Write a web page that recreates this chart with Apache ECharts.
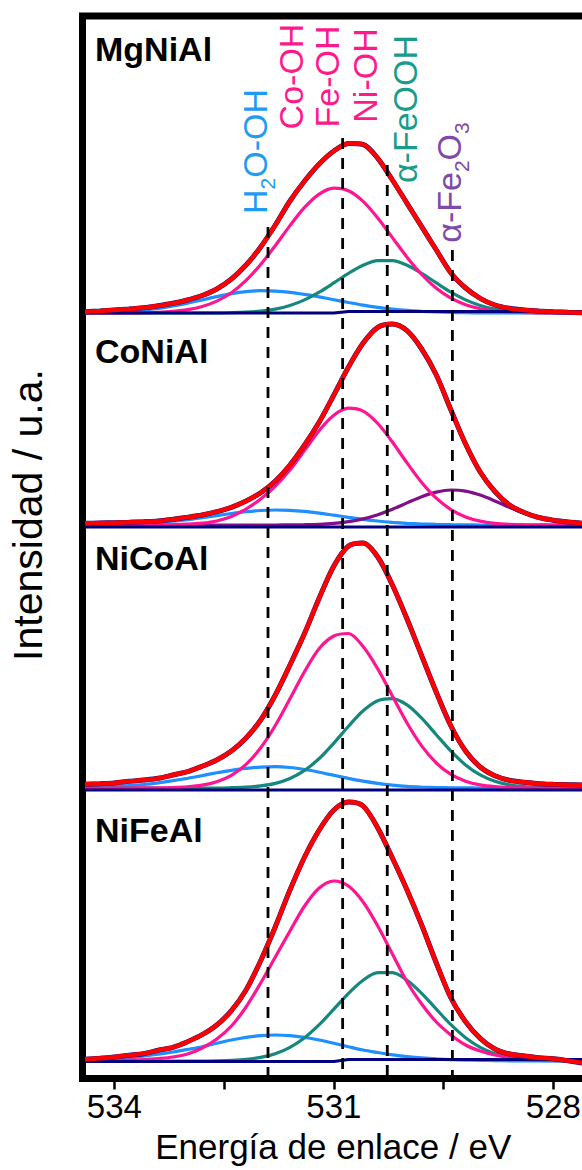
<!DOCTYPE html>
<html>
<head>
<meta charset="utf-8">
<script src="https://cdn.jsdelivr.net/npm/echarts@6/dist/echarts.min.js"></script>
<style>
  html, body { margin: 0; padding: 0; background: #fff; }
  #chart { width: 582px; height: 1170px; }
</style>
</head>
<body>
<div id="chart"></div>
<script>
// ---- O 1s spectra: binding energy grid (eV), shared by every curve ----
const energy = [534.4, 534.2, 534.0, 533.8, 533.6, 533.4, 533.2, 533.0, 532.8, 532.6,
                532.4, 532.2, 532.0, 531.8, 531.6, 531.4, 531.2, 531.0, 530.8, 530.6,
                530.4, 530.2, 530.0, 529.8, 529.6, 529.4, 529.2, 529.0, 528.8, 528.6,
                528.4, 528.2, 528.0, 527.8, 527.6];

// Axis ticks (eV)
const tickLabels = [534, 531, 528];
const tickMarks = [534, 532.5, 531, 529.5, 528];

// Reference positions of the fitted species (eV)
const speciesEnergy = [531.90, 530.88, 530.27, 529.38];

// ---- MgNiAl (intensity, a.u.) ----
const mgBackground = [0,0,0,0,0,0,0,0,0,0,0,0,0,0,0,0,0,0,1.5,1.5,1.5,1.5,1.5,1.5,1.5,1.5,1.5,1.5,1.5,1.5,1.5,1.5,1.5,1.5,1.5];
const mgEnvelope = [1.3,2.0,3.0,4.0,5.3,7.3,9.7,13,17.5,24,34,48,66,88,112,132,149,162,169.5,168.5,154.7,133,109.7,86.3,63,40,25,14.7,8,4.7,3,2,1.3,0.7,0.3];
const mgH2O = [0.2,0.5,0.9,1.7,2.9,4.6,7.0,9.9,13.1,16.4,19.3,21.4,22.3,21.9,20.7,18.6,16.1,13.3,10.5,7.9,5.7,3.9,2.6,1.7,1.0,0.6,0.3,0.15,0,0,0,0,0,0,0];
const mgMOH = [0,0,0,0.1,0.3,0.7,1.6,3.3,6.5,11.9,20.3,32.6,48.5,67.4,87.4,105.6,118.9,124.8,122.2,111.6,95.0,75.4,55.8,38.5,24.8,14.9,8.3,4.3,2.1,1.0,0.4,0.2,0,0,0];
const mgFeOOH = [0,0,0,0,0,0,0,0,0,0,0.3,0.8,1.9,3.9,7.5,13.1,20.8,30.1,39.7,47.8,52.4,52.4,47.8,39.7,30.1,20.8,13.1,7.5,3.9,1.9,0.8,0.3,0,0,0];

// ---- CoNiAl ----
const coBackground = [-2,-2,-2,-2,-2,-2,-2,-2,-2,-2,-2,-2,-2,-2,-2,-2,-2,-2,-2,-2,-2,-2,-2,-2,-2,-2,-2,-2,-2,-2,-2,-2,-2,-2,-2];
const coEnvelope = [1.7,2,2.3,2.7,3.3,4,5.7,7.7,10,13.3,17.7,24,32.3,44,60,80,103,130,158,182,197.7,201,194.3,176,150,115,81,53,33.5,20,12.5,7.5,4.8,3,1.7];
const coH2O = [0.1,0.3,0.5,0.9,2.0,3.0,3.9,5.3,7.3,9.4,11.5,13.3,14.5,15,14.7,13.6,11.9,9.8,7.7,5.7,4.0,2.7,1.7,1.0,0.6,0.3,0.15,0,0,0,0,0,0,0,0];
const coMOH = [0,0,0,0,0,0.1,0.3,0.8,1.8,4,8.5,16,26,39,55,74.6,94.6,109.8,116.8,113.8,101.5,83.0,62.1,42.6,26.8,15.4,8.1,3.9,1.7,0.7,0.3,0.1,0,0,0];
const coFe2O3 = [0,0,0,0,0,0,0,0,0,0,0,0,0,0,0.1,0.3,0.7,1.6,3.3,6.1,10.3,15.8,22.1,28.3,32.9,35,33.9,29.9,24.1,17.7,11.8,7.2,4.0,2.0,0.9];

// ---- NiCoAl ----
const ncBackground = [-2,-2,-2,-2,-2,-2,-2,-2,-2,-2,-2,-2,-2,-2,-2,-2,-2,-2,-2,-2,-2,-2,-2,-2,-2,-2,-2,-2,-2,-2,-2,-2,-2,-2,-2];
const ncEnvelope = [3.7,4.3,5,6.7,8,9.7,13,16.3,21.7,28,37,50,68,93,123,154.7,190,222,242,245,231,203,169,132.3,95.7,62,37,21,12.3,7.7,5.7,4.3,3.7,3.3,3];
const ncH2O = [0.5,0.9,1.4,2.3,3.5,5.2,7.3,9.7,12.4,15.2,17.7,19.7,20.9,21.3,20.5,18.5,15.8,12.7,9.6,6.8,4.6,2.9,1.7,1.0,0.5,0.25,0.1,0,0,0,0,0,0,0,0];
const ncMOH = [0,0,0,0,0.1,0.2,0.5,1.2,2.8,6.3,12.7,23.6,40.2,62.5,89.2,116.5,139.5,152,154.5,141.4,119.1,92.0,65.0,42.1,25.0,13.6,6.8,3.1,1.3,0.5,0.2,0,0,0,0];
const ncFeOOH = [0,0,0,0,0,0,0,0,0,0,0.3,0.8,2.1,4.6,9.5,17.6,29.5,44.9,61.8,77.2,87.3,89.4,83.1,69.9,53.3,36.9,23.1,13.1,6.7,3.1,1.3,0.5,0.2,0,0];

// ---- NiFeAl ----
const nfBackground = [-0.5,-0.5,-0.5,-0.5,-0.5,-0.5,-0.5,-0.5,-0.5,-0.5,-0.5,-0.5,-0.5,-0.5,-0.5,-0.5,-0.5,-0.5,1.5,1.5,1.5,1.5,1.5,1.5,1.5,1.5,1.5,1.5,1.5,1.5,1.5,1.5,1.5,1.5,1.5];
const nfEnvelope = [1.7,2.7,4,5.7,7.3,10.7,13.7,19.3,26.3,36,50.3,71,100.3,134.3,171,204,231,251,259,255,233,203,171,136,98,63,39.3,22.7,12,7,5,3.3,2.3,0.3,-2];
const nfH2O = [1.0,1.5,2.3,3.4,5.0,6.8,9.0,11.6,14.3,17.8,21.0,23.6,25.4,26,25.4,23.6,21.0,17.8,14.3,11.0,8.5,6.2,4.5,3.1,2.1,1.4,0.9,0.6,0.4,0.2,0,0,0,0,0];
const nfMOH = [0,0.2,0.5,1,1.5,2.5,4,7,13,22,35,54,78,104,130,155,173,180,175,159,135,107,79,57,39,26,16,10,6,3.5,2,1,0.5,0.2,0];
const nfFeOOH = [0,0,0,0,0,0,0,0,0,0.25,0.7,1.6,3.6,7.3,13.7,23.3,36.3,51.8,67.7,80.8,88.3,88.3,80.8,67.7,51.8,36.3,23.3,13.7,7.3,3.6,1.6,0.7,0.25,0,0];

// ---------------- styling & layout ----------------
const FONT = "'Liberation Sans', Arial, Helvetica, sans-serif";
const COLORS = {
  h2o: '#1e8fff', moh: '#ff1493', feooh: '#16877d', fe2o3: '#80108a',
  fit: '#ff0000', data: '#0c0c80', base: '#00007f'
};
const LABEL_COLORS = { h2o: '#1f9cf2', moh: '#ff1a8c', feooh: '#1a9c8b', fe2o3: '#7f4aa8' };

const X_MIN = 527.445, X_MAX = 534.435;      // visible energy window
const PLOT_LEFT = 82.5, PLOT_RIGHT = -12;     // frame runs past the right edge
const FRAME_TOP = 16, FRAME_BOTTOM = 1078.5;
const zeroLines = [313, 525, 788, 1061];     // pixel row of each panel's zero
const PANEL_SPAN = 300;
const SMOOTH = 0.3;

const panels = [
  { name: 'MgNiAl', background: mgBackground, envelope: mgEnvelope,
    parts: [[mgH2O, 'h2o'], [mgFeOOH, 'feooh'], [mgMOH, 'moh']] },
  { name: 'CoNiAl', background: coBackground, envelope: coEnvelope,
    parts: [[coH2O, 'h2o'], [coFe2O3, 'fe2o3'], [coMOH, 'moh']] },
  { name: 'NiCoAl', background: ncBackground, envelope: ncEnvelope,
    parts: [[ncH2O, 'h2o'], [ncFeOOH, 'feooh'], [ncMOH, 'moh']] },
  { name: 'NiFeAl', background: nfBackground, envelope: nfEnvelope,
    parts: [[nfH2O, 'h2o'], [nfFeOOH, 'feooh'], [nfMOH, 'moh']] }
];

const pairs = vals => energy.map((e, i) => [e, vals[i]]);

const grids = [{
  left: PLOT_LEFT, right: PLOT_RIGHT, top: FRAME_TOP, bottom: 1170 - FRAME_BOTTOM,
  show: true, borderColor: '#000', borderWidth: 7, backgroundColor: 'rgba(0,0,0,0)',
  outerBoundsMode: 'none'
}];
const xAxes = [{
  gridIndex: 0, type: 'value', min: X_MIN, max: X_MAX, inverse: true,
  axisLine: { show: false },
  splitLine: { show: false },
  axisTick: { show: true, inside: false, length: 11, customValues: tickMarks,
              lineStyle: { color: '#000', width: 2.5 } },
  axisLabel: { show: true, customValues: tickLabels, margin: 11, color: '#000',
               fontSize: 33, fontFamily: FONT, formatter: v => String(v) },
  name: 'Energía de enlace / eV', nameLocation: 'middle', nameGap: 50,
  nameTextStyle: { fontSize: 35, color: '#000', fontFamily: FONT, padding: [0, 10, 0, 0] }
}];
const yAxes = [{ gridIndex: 0, type: 'value', min: 0, max: FRAME_BOTTOM - FRAME_TOP, show: false }];
const series = [];

panels.forEach((p, k) => {
  const gi = k + 1;
  grids.push({ left: PLOT_LEFT, right: PLOT_RIGHT, top: zeroLines[k] - PANEL_SPAN,
               height: PANEL_SPAN + 10, outerBoundsMode: 'none' });
  xAxes.push({ gridIndex: gi, type: 'value', min: X_MIN, max: X_MAX, inverse: true, show: false });
  yAxes.push({ gridIndex: gi, type: 'value', min: -10, max: PANEL_SPAN, show: false });

  const common = { xAxisIndex: gi, yAxisIndex: gi, symbol: 'none', silent: true, animation: false };
  p.parts.forEach(([vals, key]) => {
    series.push(Object.assign({}, common, {
      type: 'line', name: p.name + ' ' + key, data: pairs(vals), smooth: SMOOTH, z: 3,
      lineStyle: { color: COLORS[key], width: 3.2 }
    }));
  });
  series.push(Object.assign({}, common, {
    type: 'line', name: p.name + ' fondo', data: pairs(p.background), z: 4,
    lineStyle: { color: COLORS.base, width: 3 }
  }));
  // measured points outline beneath the fitted envelope
  series.push(Object.assign({}, common, {
    type: 'line', name: p.name + ' datos', data: pairs(p.envelope), smooth: SMOOTH, z: 5,
    lineStyle: { color: COLORS.data, width: 5.0 }
  }));
  series.push(Object.assign({}, common, {
    type: 'line', name: p.name + ' ajuste', data: pairs(p.envelope), smooth: SMOOTH, z: 6,
    lineStyle: { color: COLORS.fit, width: 4.4 }
  }));
});

// dashed guides at each species position, drawn from their top end downward
const guideTops = [227, 138, 165, 250];
speciesEnergy.forEach((e, i) => {
  series.push({
    type: 'line', xAxisIndex: 0, yAxisIndex: 0, symbol: 'none', silent: true, z: 8,
    data: [[e, FRAME_BOTTOM - guideTops[i]], [e, 0]],
    lineStyle: { color: '#000', width: 2.8, type: [11, 9] }
  });
});

const rotText = (x, y, text, color, rich) => ({
  type: 'text', x, y, rotation: Math.PI / 2, z: 20,
  style: Object.assign({
    text, fill: color, fontSize: 34, fontFamily: FONT,
    align: 'center', verticalAlign: 'middle'
  }, rich ? { lineHeight: 46, rich } : {})
});
const subStyle = color => ({ s: { fontSize: 21, lineHeight: 20, verticalAlign: 'bottom', fill: color, fontFamily: FONT } });

const panelNameRows = [49.2, 351.2, 558.2, 829.7];
const graphics = [
  { type: 'text', x: 28, y: 515, rotation: Math.PI / 2, z: 20,
    style: { text: 'Intensidad / u.a.', fill: '#000', fontSize: 41, fontFamily: FONT,
             align: 'center', verticalAlign: 'middle' } },
  rotText(255, 151.5, 'H{s|2}O-OH', LABEL_COLORS.h2o, subStyle(LABEL_COLORS.h2o)),
  rotText(290.5, 76.5, 'Co-OH', LABEL_COLORS.moh),
  rotText(327, 76.5, 'Fe-OH', LABEL_COLORS.moh),
  rotText(365, 75.5, 'Ni-OH', LABEL_COLORS.moh),
  rotText(404.5, 109, 'α-FeOOH', LABEL_COLORS.feooh),
  rotText(449, 182.5, 'α-Fe{s|2}O{s|3}', LABEL_COLORS.fe2o3, subStyle(LABEL_COLORS.fe2o3))
];
panels.forEach((p, k) => {
  graphics.push({
    type: 'text', x: 95, y: panelNameRows[k], z: 20,
    style: { text: p.name, fill: '#000', fontSize: 34, fontWeight: 'bold', fontFamily: FONT,
             align: 'left', verticalAlign: 'middle' }
  });
});

const chart = echarts.init(document.getElementById('chart'), null, { renderer: 'svg' });
chart.setOption({
  animation: false,
  backgroundColor: '#ffffff',
  grid: grids,
  xAxis: xAxes,
  yAxis: yAxes,
  series,
  graphic: graphics
});
</script>
</body>
</html>
